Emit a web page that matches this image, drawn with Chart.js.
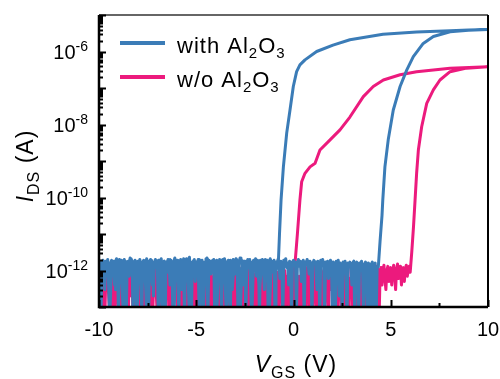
<!DOCTYPE html>
<html>
<head>
<meta charset="utf-8">
<script src="https://cdn.jsdelivr.net/npm/chart.js@4.4.1/dist/chart.umd.min.js"></script>
<style>
  html, body { margin: 0; padding: 0; background: #fff; }
  #wrap { width: 500px; height: 379px; }
</style>
</head>
<body>
<div id="wrap"><canvas id="c" width="500" height="379"></canvas></div>
<script>
// ---- Transfer curves: I_DS vs V_GS, double sweep (-10 V -> 10 V -> -10 V) ----

const seriesLabels = ['with Al_{2}O_{3}', 'w/o Al_{2}O_{3}'];
const seriesColors = ['#3b7cb7', '#ec1a7d'];

// Tick values and their labels
const xTickValues = [-10, -5, 0, 5, 10];
const xTickLabels = ['-10', '-5', '0', '5', '10'];
const yTickValues = [1e-12, 1e-10, 1e-8, 1e-6];
const yTickLabels = ['10^{-12}', '10^{-10}', '10^{-8}', '10^{-6}'];

// Voltage steps of the off-state readings, V
const upStep = 0.05;
const downStep = -0.1;

// with Al2O3, up sweep: off-state from -10 V to 4.3 V (A)
const blueUpNoise = [
  1.7e-12, 1.2e-12, 5e-14, 1.5e-12, 1.9e-12, 1.6e-12, 3e-13, 1.8e-12, 1.4e-12, 2e-12, 8e-13, 5e-14, 1.6e-12, 1.9e-12, 1.3e-12, 1.7e-12, 4e-13, 1.8e-12, 2.1e-12, 1.5e-12,
  6e-14, 1.7e-12, 1.4e-12, 1.9e-12, 7e-13, 1.6e-12, 2e-12, 1.2e-12, 5e-14, 1.5e-12, 1.8e-12, 1.6e-12, 2.2e-12, 9e-13, 1.7e-12, 5e-14, 1.4e-12, 1.9e-12, 1.6e-12, 3e-13,
  1.8e-12, 1.5e-12, 2e-12, 1.3e-12, 5e-14, 1.7e-12, 1.9e-12, 6e-13, 1.6e-12, 2.1e-12, 1.4e-12, 5e-14, 1.8e-12, 1.5e-12, 1.9e-12, 1.1e-12, 2e-13, 1.7e-12, 2e-12, 1.6e-12,
  1.3e-12, 5e-14, 1.9e-12, 1.6e-12, 2.1e-12, 8e-13, 1.5e-12, 1.8e-12, 5e-14, 1.7e-12, 1.4e-12, 2e-12, 1.6e-12, 4e-13, 1.9e-12, 1.5e-12, 5e-14, 1.8e-12, 2.2e-12, 1.7e-12,
  1.2e-12, 1.9e-12, 5e-14, 1.6e-12, 2e-12, 1.5e-12, 1.8e-12, 7e-13, 5e-14, 1.7e-12, 2.1e-12, 1.4e-12, 1.9e-12, 2.3e-12, 1e-12, 5e-14, 1.6e-12, 1.8e-12, 2e-12, 5e-13,
  1.7e-12, 1.4e-12, 2e-12, 5e-14, 1.8e-12, 1.5e-12, 1.9e-12, 1.2e-12, 3e-13, 1.7e-12, 2.1e-12, 1.6e-12, 5e-14, 1.9e-12, 1.4e-12, 1.8e-12, 9e-13, 1.6e-12, 2e-12, 5e-14,
  1.5e-12, 1.9e-12, 1.7e-12, 6e-13, 2e-12, 1.6e-12, 5e-14, 1.8e-12, 1.4e-12, 2.1e-12, 1.7e-12, 2e-13, 1.5e-12, 1.9e-12, 1.6e-12, 5e-14, 1.8e-12, 1.3e-12, 2e-12, 1.7e-12,
  8e-13, 1.9e-12, 1.5e-12, 5e-14, 1.7e-12, 2.2e-12, 1.6e-12, 1.9e-12, 4e-13, 1.5e-12, 1.8e-12, 5e-14, 1.6e-12, 2e-12, 1.4e-12, 1.8e-12, 1.1e-12, 5e-14, 1.7e-12, 1.9e-12,
  1.6e-12, 2.1e-12, 7e-13, 1.5e-12, 1.8e-12, 5e-14, 1.9e-12, 1.6e-12, 2e-12, 1.3e-12, 3e-13, 1.7e-12, 1.5e-12, 1.9e-12, 5e-14, 1.6e-12, 2.1e-12, 1.8e-12, 9e-13, 1.5e-12,
  1.9e-12, 5e-14, 1.7e-12, 1.4e-12, 2e-12, 1.6e-12, 6e-13, 1.8e-12, 1.5e-12, 5e-14, 1.9e-12, 1.7e-12, 2.1e-12, 1.2e-12, 1.6e-12, 4e-13, 1.8e-12, 1.5e-12, 5e-14, 1.7e-12,
  1.9e-12, 1.4e-12, 1.7e-12, 5e-14, 1.6e-12, 2e-12, 1.3e-12, 1.8e-12, 5e-13, 1.5e-12, 1.9e-12, 5e-14, 1.7e-12, 1.4e-12, 2e-12, 1.6e-12, 8e-13, 1.8e-12, 1.5e-12, 5e-14,
  1.6e-12, 1.9e-12, 1.5e-12, 1.7e-12, 3e-13, 1.8e-12, 1.4e-12, 5e-14, 1.9e-12, 1.6e-12, 2e-12, 1.3e-12, 5e-14, 1.7e-12, 1.5e-12, 1.8e-12, 6e-13, 1.4e-12, 1.9e-12, 1.6e-12,
  5e-14, 1.7e-12, 1.4e-12, 5e-14, 1.8e-12, 1.5e-12, 1.9e-12, 2e-13, 1.6e-12, 1.3e-12, 5e-14, 1.7e-12, 1.5e-12, 1.8e-12, 7e-13, 5e-14, 1.6e-12, 1.4e-12, 1.7e-12, 1.2e-12,
  4e-13, 1.6e-12, 1.8e-12, 5e-14, 1.5e-12, 1.7e-12, 1.3e-12, 5e-14, 1.6e-12, 1.4e-12, 1.8e-12, 9e-13, 5e-14, 1.5e-12, 1.7e-12, 1.4e-12, 5e-14, 1.6e-12, 1.3e-12, 5e-14,
  1.5e-12, 1.7e-12, 5e-14, 1.4e-12, 1.6e-12, 5e-14, 1.2e-12
];
// with Al2O3, up sweep: turn-on
const blueUpV = [4.36, 4.45, 4.55, 4.59, 4.7, 4.87, 5.13, 5.48, 5.82, 6.16, 6.67, 7.19, 8.05, 9.0, 10];
const blueUpI = [1.26e-12, 6.3e-12, 3.2e-11, 8.5e-11, 6.9e-10, 3.8e-9, 2.5e-8, 1.1e-7, 3.1e-7, 7.2e-7, 1.66e-6, 2.57e-6, 3.47e-6, 3.8e-6, 4.0e-6];
// with Al2O3, down sweep: turn-off
const blueDownV = [10, 9.0, 8.05, 6.33, 4.6, 2.9, 2.03, 1.19, 0.59, 0.33, 0.16, -0.01, -0.18, -0.35, -0.52, -0.64, -0.72, -0.78];
const blueDownI = [4.0e-6, 3.9e-6, 3.7e-6, 3.4e-6, 2.95e-6, 2.1e-6, 1.5e-6, 1.0e-6, 5.9e-7, 4.3e-7, 2.8e-7, 1.1e-7, 2.5e-8, 5.8e-9, 6.9e-10, 8.5e-11, 1e-11, 1.6e-12];
// with Al2O3, down sweep: off-state from -0.85 V to -9.95 V
const blueDownNoise = [
  1.5e-12, 6e-13, 1.8e-12, 1.3e-12, 5e-14, 1.7e-12, 2e-12, 9e-13, 1.6e-12, 2e-13,
  1.9e-12, 1.4e-12, 1.7e-12, 5e-14, 2e-12, 1.5e-12, 7e-13, 1.8e-12, 1.2e-12, 4e-14,
  1.6e-12, 2.1e-12, 1.4e-12, 3e-13, 1.9e-12, 1.7e-12, 5e-14, 1.5e-12, 2e-12, 1.1e-12,
  1.8e-12, 5e-14, 1.6e-12, 1.9e-12, 8e-13, 1.5e-12, 2.2e-12, 1.3e-12, 4e-14, 1.7e-12,
  2e-12, 1.4e-12, 6e-13, 1.8e-12, 1.6e-12, 5e-14, 1.9e-12, 1.5e-12, 2.1e-12, 3e-13,
  1.7e-12, 1.3e-12, 1.9e-12, 5e-14, 1.6e-12, 2e-12, 9e-13, 1.4e-12, 1.8e-12, 5e-14,
  1.5e-12, 1.9e-12, 1.2e-12, 1.7e-12, 4e-13, 2e-12, 1.6e-12, 5e-14, 1.8e-12, 1.4e-12,
  1.1e-12, 1.7e-12, 5e-14, 1.9e-12, 1.5e-12, 2.1e-12, 7e-13, 1.6e-12, 1.8e-12, 5e-14,
  1.4e-12, 2e-12, 1.6e-12, 3e-13, 1.8e-12, 1.5e-12, 5e-14, 1.9e-12, 1.3e-12, 1.7e-12,
  6e-13, 1.6e-12
];

// w/o Al2O3, up sweep: off-state from -10 V to 6.0 V (A)
const pinkUpNoise = [
  4e-13, 9e-13, 5e-14, 6e-13, 1.1e-12, 3e-13, 5e-14, 7e-13, 1.3e-12, 5e-13, 2e-13, 5e-14, 8e-13, 4e-13, 1e-12, 6e-13, 5e-14, 3e-13, 9e-13, 5e-13,
  5e-14, 7e-13, 1.2e-12, 4e-13, 2e-13, 5e-14, 8e-13, 6e-13, 1.4e-12, 3e-13, 5e-14, 5e-13, 9e-13, 2e-13, 6e-13, 5e-14, 1.1e-12, 4e-13, 7e-13, 5e-14,
  3e-13, 8e-13, 5e-13, 5e-14, 1e-12, 6e-13, 2e-13, 5e-14, 7e-13, 1.2e-12, 4e-13, 5e-14, 9e-13, 5e-13, 3e-13, 5e-14, 6e-13, 1.3e-12, 8e-13, 2e-13,
  5e-14, 5e-13, 7e-13, 4e-13, 5e-14, 1.1e-12, 6e-13, 3e-13, 5e-14, 9e-13, 1.5e-12, 5e-13, 5e-14, 2e-13, 8e-13, 4e-13, 5e-14, 7e-13, 1e-12, 3e-13,
  6e-13, 5e-14, 1.2e-12, 8e-13, 2e-13, 5e-14, 5e-13, 9e-13, 4e-13, 5e-14, 1.4e-12, 7e-13, 3e-13, 5e-14, 6e-13, 1e-12, 5e-13, 5e-14, 2e-13, 8e-13,
  4e-13, 1.1e-12, 5e-14, 6e-13, 3e-13, 9e-13, 5e-14, 5e-13, 1.3e-12, 7e-13, 5e-14, 2e-13, 8e-13, 4e-13, 5e-14, 1e-12, 6e-13, 3e-13, 5e-14, 7e-13,
  1.2e-12, 5e-13, 5e-14, 8e-13, 3e-13, 6e-13, 5e-14, 1.1e-12, 4e-13, 2e-13, 5e-14, 9e-13, 7e-13, 5e-14, 5e-13, 1.3e-12, 3e-13, 5e-14, 6e-13, 8e-13,
  2e-13, 5e-14, 1e-12, 5e-13, 7e-13, 5e-14, 4e-13, 1.2e-12, 6e-13, 5e-14, 3e-13, 9e-13, 5e-13, 5e-14, 1.1e-12, 7e-13, 2e-13, 5e-14, 8e-13, 4e-13,
  5e-14, 6e-13, 1.3e-12, 3e-13, 5e-14, 8e-13, 5e-13, 1e-12, 5e-14, 4e-13, 7e-13, 2e-13, 5e-14, 1.2e-12, 6e-13, 9e-13, 5e-14, 3e-13, 5e-13, 1.1e-12,
  7e-13, 5e-14, 4e-13, 9e-13, 6e-13, 5e-14, 1.2e-12, 3e-13, 8e-13, 5e-14, 5e-13, 1e-12, 2e-13, 5e-14, 7e-13, 4e-13, 1.3e-12, 5e-14, 6e-13, 3e-13,
  5e-14, 9e-13, 5e-13, 1.1e-12, 5e-14, 4e-13, 7e-13, 2e-13, 5e-14, 1e-12, 6e-13, 8e-13, 5e-14, 3e-13, 1.2e-12, 5e-13, 5e-14, 7e-13, 4e-13, 9e-13,
  5e-14, 6e-13, 1.3e-12, 3e-13, 5e-14, 8e-13, 5e-13, 1.1e-12, 5e-14, 2e-13, 7e-13, 1e-12, 5e-14, 4e-13, 9e-13, 6e-13, 5e-14, 1.2e-12, 3e-13, 8e-13,
  5e-13, 5e-14, 1e-12, 7e-13, 2e-13, 5e-14, 1.3e-12, 6e-13, 4e-13, 5e-14, 9e-13, 1.1e-12, 3e-13, 5e-14, 8e-13, 5e-13, 1.2e-12, 5e-14, 6e-13, 4e-13,
  1e-12, 5e-14, 7e-13, 1.3e-12, 5e-13, 5e-14, 9e-13, 3e-13, 1.1e-12, 6e-13, 5e-14, 8e-13, 1.2e-12, 4e-13, 5e-14, 7e-13, 1e-12, 5e-13, 5e-14, 9e-13,
  1.2e-12, 6e-13, 1e-12, 5e-14, 8e-13, 1.3e-12, 5e-13, 1.1e-12, 5e-14, 7e-13, 1.2e-12, 4e-13, 9e-13, 1.4e-12, 6e-13, 3e-13, 1e-12, 1.3e-12, 5e-13, 8e-13,
  1.2e-12, 4e-13, 1e-12, 1.4e-12, 7e-13, 3e-13, 1.1e-12, 1.5e-12, 6e-13, 9e-13, 1.3e-12, 4e-13, 8e-13, 1.2e-12, 5e-13, 1.1e-12, 1.4e-12, 7e-13, 1e-12, 1.3e-12,
  9e-13
];
// w/o Al2O3, up sweep: turn-on
const pinkUpV = [6.08, 6.17, 6.25, 6.33, 6.42, 6.59, 6.85, 7.19, 7.53, 8.05, 8.9, 10];
const pinkUpI = [3.2e-12, 1.6e-11, 8.5e-11, 4.6e-10, 2.0e-9, 8.7e-9, 3.8e-8, 8.9e-8, 1.66e-7, 2.8e-7, 3.5e-7, 3.8e-7];
// w/o Al2O3, down sweep: turn-off
const pinkDownV = [10, 8.05, 6.33, 5.48, 4.62, 4.1, 3.59, 2.9, 2.39, 1.88, 1.36, 1.11, 0.85, 0.59, 0.42, 0.33, 0.2, 0.08];
const pinkDownI = [3.8e-7, 3.5e-7, 2.8e-7, 2.3e-7, 1.66e-7, 1.1e-7, 5.8e-8, 1.6e-8, 7.1e-9, 3.8e-9, 2.0e-9, 8.7e-10, 6.9e-10, 4.6e-10, 2.7e-10, 8.5e-11, 1e-11, 1.6e-12];
// w/o Al2O3, down sweep: off-state from -0.05 V to -9.95 V
const pinkDownNoise = [
  6e-13, 5e-14, 1e-12, 3e-13, 7e-13, 5e-14, 1.2e-12, 4e-13, 8e-13, 2e-13,
  5e-14, 9e-13, 5e-13, 1.1e-12, 5e-14, 3e-13, 7e-13, 1.3e-12, 4e-13, 5e-14,
  8e-13, 6e-13, 2e-13, 1e-12, 5e-14, 5e-13, 1.2e-12, 3e-13, 5e-14, 7e-13,
  1.1e-12, 4e-13, 5e-14, 9e-13, 6e-13, 2e-13, 1.4e-12, 5e-14, 5e-13, 8e-13,
  3e-13, 5e-14, 1e-12, 7e-13, 4e-13, 1.5e-12, 5e-14, 6e-13, 2e-13, 9e-13,
  5e-14, 1.2e-12, 5e-13, 3e-13, 8e-13, 5e-14, 1.1e-12, 4e-13, 7e-13, 5e-14,
  6e-13, 1.3e-12, 2e-13, 5e-14, 9e-13, 5e-13, 1e-12, 3e-13, 5e-14, 8e-13,
  4e-13, 1.2e-12, 5e-14, 6e-13, 7e-13, 2e-13, 1.1e-12, 5e-14, 5e-13, 9e-13,
  3e-13, 5e-14, 1.3e-12, 4e-13, 8e-13, 5e-14, 6e-13, 1e-12, 2e-13, 5e-14,
  7e-13, 1.1e-12, 5e-13, 5e-14, 9e-13, 3e-13, 1.4e-12, 6e-13, 5e-14, 8e-13
];

// ---- point builders ----
function sweepPoints(startV, stepV, currents) {
  return currents.map((I, i) => ({ x: Math.round((startV + i * stepV) * 100) / 100, y: I }));
}
function pairPoints(vs, is) {
  return vs.map((v, i) => ({ x: v, y: is[i] }));
}

const bluePoints = [
  ...sweepPoints(-10, upStep, blueUpNoise),
  ...pairPoints(blueUpV, blueUpI),
  ...pairPoints(blueDownV, blueDownI),
  ...sweepPoints(-0.85, downStep, blueDownNoise)
];
const pinkPoints = [
  ...sweepPoints(-10, upStep, pinkUpNoise),
  ...pairPoints(pinkUpV, pinkUpI),
  ...pairPoints(pinkDownV, pinkDownI),
  ...sweepPoints(-0.05, downStep, pinkDownNoise)
];

// ---- rich text: _{sub}, ^{sup}, *{italic} ----
const FAMILY = '"Liberation Sans", Arial, Helvetica, sans-serif';
function parseRich(str) {
  const out = [];
  const re = /([_^*])\{([^}]*)\}/g;
  let last = 0, m;
  while ((m = re.exec(str))) {
    if (m.index > last) out.push({ t: str.slice(last, m.index), k: '' });
    out.push({ t: m[2], k: m[1] });
    last = re.lastIndex;
  }
  if (last < str.length) out.push({ t: str.slice(last), k: '' });
  return out;
}
function drawRich(ctx, str, x, y, size, align, subSize, spacing) {
  const parts = parseRich(str);
  const small = subSize || Math.round(size * 0.68);
  const fontOf = p => (p.k === '*' ? 'italic ' : '') + ((p.k === '_' || p.k === '^') ? small : size) + 'px ' + FAMILY;
  if ('letterSpacing' in ctx) ctx.letterSpacing = (spacing || 0) + 'px';
  let w = 0;
  parts.forEach(p => { ctx.font = fontOf(p); p.w = ctx.measureText(p.t).width; w += p.w; });
  let cx = align === 'center' ? x - w / 2 : (align === 'right' ? x - w : x);
  ctx.textAlign = 'left';
  ctx.textBaseline = 'alphabetic';
  parts.forEach(p => {
    ctx.font = fontOf(p);
    const dy = p.k === '_' ? size * 0.24 : (p.k === '^' ? -size * 0.37 : 0);
    ctx.fillText(p.t, cx, y + dy);
    cx += p.w;
  });
  if ('letterSpacing' in ctx) ctx.letterSpacing = '0px';
}

// ---- frame, inward ticks, tick labels, axis titles and legend ----
const decorPlugin = {
  id: 'decor',
  afterDatasetsDraw(chart) {
    const { ctx, chartArea: a, scales } = chart;
    const xs = scales.x, ys = scales.y;
    ctx.save();
    ctx.fillStyle = '#000';

    // frame
    ctx.lineWidth = 1.5;
    ctx.strokeStyle = '#333';
    ctx.beginPath(); ctx.moveTo(a.left, a.top); ctx.lineTo(a.right, a.top); ctx.stroke();
    ctx.strokeStyle = '#000';
    ctx.lineWidth = 2;
    ctx.beginPath(); ctx.moveTo(a.right, a.top); ctx.lineTo(a.right, a.bottom); ctx.stroke();
    ctx.lineWidth = 2.5;
    ctx.beginPath(); ctx.moveTo(a.left, a.top); ctx.lineTo(a.left, a.bottom); ctx.lineTo(a.right, a.bottom); ctx.stroke();

    // y ticks: decades long, 2..9 short, pointing inward
    ctx.lineWidth = 2;
    ctx.beginPath();
    for (let e = -13; e <= -5; e++) {
      for (let m = 1; m <= 9; m++) {
        const v = m * Math.pow(10, e);
        if (v < ys.min * 0.999 || v > ys.max * 1.001) continue;
        const py = Math.round(ys.getPixelForValue(v)) + 0.5;
        const len = m === 1 ? 7 : 4;
        ctx.moveTo(a.left, py); ctx.lineTo(a.left + len, py);
      }
    }
    ctx.stroke();

    // x ticks: majors at labels, minors halfway
    ctx.beginPath();
    for (let v = xs.min; v <= xs.max + 1e-9; v += 2.5) {
      const px = Math.round(xs.getPixelForValue(v)) + 0.5;
      const len = xTickValues.includes(v) ? 7 : 4;
      ctx.moveTo(px, a.bottom); ctx.lineTo(px, a.bottom - len);
    }
    ctx.stroke();

    // tick labels
    xTickValues.forEach((v, i) => drawRich(ctx, xTickLabels[i], xs.getPixelForValue(v), 336, 20, 'center'));
    yTickValues.forEach((v, i) => drawRich(ctx, yTickLabels[i], 88, ys.getPixelForValue(v) + 7, 20, 'right', 14));

    // axis titles
    drawRich(ctx, '*{V}_{GS} (V)', 296, 372, 23, 'center', 16, 1);
    ctx.save();
    ctx.translate(33, 166);
    ctx.rotate(-Math.PI / 2);
    drawRich(ctx, '*{I}_{DS} (A)', 0, 0, 23, 'center', 16, 1);
    ctx.restore();

    // legend
    seriesLabels.forEach((lab, i) => {
      const ly = 43 + i * 34;
      ctx.strokeStyle = seriesColors[i];
      ctx.lineWidth = 4;
      ctx.lineCap = 'butt';
      ctx.beginPath(); ctx.moveTo(120, ly); ctx.lineTo(165, ly); ctx.stroke();
      ctx.fillStyle = '#000';
      drawRich(ctx, lab, 177, ly + 10, 22, 'left', 15, 1);
    });
    ctx.restore();
  }
};

new Chart(document.getElementById('c'), {
  type: 'line',
  data: {
    datasets: [
      { label: 'with Al2O3', data: bluePoints, borderColor: seriesColors[0] },
      { label: 'w/o Al2O3', data: pinkPoints, borderColor: seriesColors[1] }
    ]
  },
  options: {
    responsive: false,
    devicePixelRatio: 1,
    animation: false,
    layout: { padding: { left: 99, right: 12, top: 15, bottom: 72 } },
    datasets: {
      line: {
        borderWidth: 3,
        pointRadius: 0,
        tension: 0,
        fill: false,
        borderJoinStyle: 'round',
        borderCapStyle: 'round'
      }
    },
    scales: {
      x: { type: 'linear', min: -10, max: 10, display: false },
      y: { type: 'logarithmic', min: 1e-13, max: 1e-5, display: false }
    },
    plugins: {
      legend: { display: false },
      tooltip: { enabled: false }
    }
  },
  plugins: [decorPlugin]
});
</script>
</body>
</html>
